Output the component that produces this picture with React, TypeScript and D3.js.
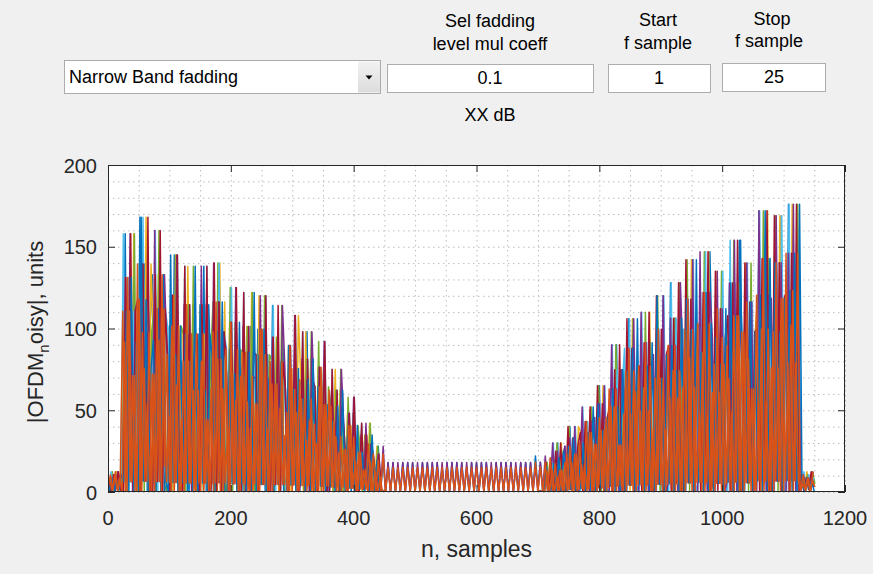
import React from 'react';
import * as d3 from 'd3';

// ---------- data ----------
const xTicks = [0, 200, 400, 600, 800, 1000, 1200];
const yTicks = [0, 50, 100, 150, 200];
const xMinor = d3.range(0, 1201, 50);
const yMinor = d3.range(0, 201, 10);

// samples between successive stored points, points per envelope bin
const STEP = 4;
const PER_BIN = 6;

// peak level of each 24-sample bin
const binEnvelope = [
  15, 158, 168, 160, 145, 138, 138, 140, 125, 122, 120, 114, 108, 98, 92, 75,
  58, 42, 28, 18, 18, 18, 18, 18, 18, 18, 18, 18, 18, 22, 30, 40,
  52, 65, 90, 106, 110, 120, 128, 142, 147, 135, 154, 140, 172, 169, 176, 15,
];

// decoding of one stored digit into a fraction of the bin envelope
const digitLevel = [0, 0.04, 0.1, 0.2, 0.32, 0.45, 0.58, 0.7, 0.83, 1];

// one digit per stored point (6 per bin, 48 bins)
const blueSeries = [
  '406185 290817 091806 807150 170915 608071 073908 581706',
  '019280 706184 081607 190728 605180 071906 508170 170816',
  '608071 071836 809170 909080 909090 809090 909080 909090',
  '908090 909090 809090 909080 909090 918070 071906 709180',
  '084706 609180 081907 709180 170806 608091 093807 708190',
  '081709 607180 081709 708160 093708 608190 091807 360715',
];
const yellowSeries = [
  '264805 807190 071908 608071 180907 709180 081706 170908',
  '083706 708190 091706 608072 180709 709180 081706 709180',
  '081706 608190 291010 000000 000000 000000 000000 000000',
  '000000 000000 000000 000000 000000 010281 708190 081709',
  '708190 081907 708160 180907 708190 081706 708190 081907',
  '708190 091807 608170 091807 708190 081907 709180 528163',
];
const greenSeries = [
  '382706 708190 180706 709180 081907 708190 180706 809170',
  '190807 708190 081907 708190 081706 708190 190807 708190',
  '091807 608190 191010 000000 000000 000000 000000 000000',
  '000000 000000 000000 000000 000000 010181 709180 190807',
  '608190 190807 709180 081907 709180 190807 608190 190807',
  '709180 081907 709180 180907 709180 190807 608190 627184',
];
const cyanSeries = [
  '183706 908170 809180 190807 708190 190807 608190 081907',
  '709180 091807 708190 190807 608190 190807 708190 190807',
  '608190 190807 708100 000000 000000 000000 000000 000000',
  '000000 000000 000000 000000 000000 001080 190807 608190',
  '091807 708190 190807 809180 091807 608190 091807 708190',
  '180907 608190 091807 709180 190807 608190 091807 281736',
];
const purpleSeries = [
  '705283 081907 708160 091708 608190 083706 709180 091807',
  '708190 180706 609180 081709 708190 081709 608190 081709',
  '708190 081907 708190 909090 909090 909090 909090 909090',
  '909090 909090 909090 909090 909090 708190 190807 708190',
  '190708 708190 091708 608190 091807 708190 180709 608190',
  '091708 709180 180907 609180 091807 709180 081907 174628',
];
const darkRedSeries = [
  '607381 081907 708190 081907 608190 091807 708190 190807',
  '608190 091807 708190 081907 608190 190807 708190 091807',
  '608190 091807 708100 000000 000000 000000 000000 000000',
  '000000 000000 000000 000000 000000 001080 608190 091807',
  '708190 190807 608190 091807 708190 091807 708190 091807',
  '608190 190807 708190 091807 608190 091807 708190 716283',
];
const blue2Series = [
  '061527 170806 091705 607081 091607 170609 081507 607180',
  '071608 160709 071806 506170 081607 160708 071506 160708',
  '061507 160508 170100 000000 000000 000000 000000 000000',
  '000000 000000 000000 000000 000000 001070 160708 071806',
  '160709 081607 170608 071809 160708 091607 170608 081709',
  '160807 071608 180709 061807 170908 081607 170809 416250',
];
const orange2Series = [
  '517260 607150 705160 516071 408170 616150 507140 716051',
  '406170 715061 508140 616071 507150 614160 408061 715051',
  '507140 614050 504010 000000 000000 000000 000000 000000',
  '000000 000000 000000 000000 000000 001060 504150 615061',
  '408170 516071 607140 715061 508170 616041 507160 716051',
  '408170 615061 507170 716050 408160 615071 507180 426153',
];
const orangeSeries = [
  '372806 708150 806140 507182 617050 408170 716040 508160',
  '708150 617040 508170 706151 408060 716050 507061 816040',
  '507160 614170 807080 808080 808080 808080 808080 808080',
  '808080 808080 808080 808080 808080 807080 706150 507060',
  '614070 507160 706041 508170 716050 408160 716050 508170',
  '716040 508170 614070 708150 716040 508170 816051 271608',
];

// drawing order (last on top), colours and first-sample offsets
const seriesList = [
  blueSeries, yellowSeries, greenSeries, cyanSeries, purpleSeries,
  darkRedSeries, blue2Series, orange2Series, orangeSeries,
];
const seriesColors = [
  '#0072BD', '#EDB120', '#77AC30', '#4DBEEE', '#7E2F8E',
  '#A2142F', '#0072BD', '#D95319', '#D95319',
];
const seriesStart = [0, 2, 3, 1, 0, 1, 2, 3, 0];

const toValues = (rows: string[]): number[] =>
  rows
    .join('')
    .replace(/\s+/g, '')
    .split('')
    .map((c, i) => binEnvelope[Math.floor(i / PER_BIN)] * digitLevel[+c]);

// ---------- layout ----------
const W = 873;
const H = 574;
const PL = 108, PR = 845, PT = 165, PB = 492;
const FONT = '"Liberation Sans", Arial, Helvetica, sans-serif';

export default function App() {
  const x = d3.scaleLinear().domain([0, 1200]).range([PL, PR]);
  const y = d3.scaleLinear().domain([0, 200]).range([PB, PT]);

  const gridColor = '#bdbdbd';
  const axisColor = '#262626';
  const tickLen = 7;

  return (
    <div style={{ position: 'absolute', left: 0, top: 0, width: W, height: H }}>
      <svg width={W} height={H} style={{ display: 'block' }} fontFamily={FONT}>
        <rect x={0} y={0} width={W} height={H} fill="#f0f0f0" />

        {/* ---------- GUI controls ---------- */}
        <g fontSize={18} fill="#000">
          <text x={490} y={27} textAnchor="middle">Sel fadding</text>
          <text x={490} y={50} textAnchor="middle">level mul coeff</text>
          <text x={658} y={26} textAnchor="middle">Start</text>
          <text x={658} y={49} textAnchor="middle">f sample</text>
          <text x={772} y={25} textAnchor="middle">Stop</text>
          <text x={769} y={47} textAnchor="middle">f sample</text>
          <text x={490} y={121} textAnchor="middle">XX dB</text>
        </g>
        {/* popup menu */}
        <rect x={64.5} y={60.5} width={316} height={33} fill="#fff" stroke="#acacac" />
        <defs>
          <linearGradient id="btn" x1="0" y1="0" x2="0" y2="1">
            <stop offset="0" stopColor="#f2f2f2" />
            <stop offset="1" stopColor="#dcdcdc" />
          </linearGradient>
          <clipPath id="plotClip">
            <rect x={PL} y={PT} width={PR - PL} height={PB - PT} />
          </clipPath>
        </defs>
        <rect x={358} y={61.5} width={22} height={31} fill="url(#btn)" />
        <path d="M365.5,75.5 L372.5,75.5 L369,79.5 Z" fill="#000" />
        <text x={69} y={83} fontSize={18} fill="#000">Narrow Band fadding</text>
        {/* edit boxes */}
        <rect x={387.5} y={64.5} width={206} height={28} fill="#fff" stroke="#adadad" />
        <rect x={608.5} y={64.5} width={102} height={28} fill="#fff" stroke="#adadad" />
        <rect x={722.5} y={63.5} width={103} height={28} fill="#fff" stroke="#adadad" />
        <g fontSize={18} fill="#000" textAnchor="middle">
          <text x={490} y={84}>0.1</text>
          <text x={659} y={84}>1</text>
          <text x={774} y={83}>25</text>
        </g>

        {/* ---------- axes background & grid ---------- */}
        <rect x={PL} y={PT} width={PR - PL} height={PB - PT} fill="#fff" />
        <g stroke={gridColor} strokeWidth={1} strokeDasharray="1.5 3.5">
          {xMinor.map((v) => (
            <line key={'gx' + v} x1={x(v) + 0.5} x2={x(v) + 0.5} y1={PT} y2={PB} />
          ))}
          {yMinor.map((v) => (
            <line key={'gy' + v} x1={PL} x2={PR} y1={y(v) + 0.5} y2={y(v) + 0.5} />
          ))}
        </g>

        {/* ---------- data lines ---------- */}
        <g fill="none" strokeWidth={1.5} strokeLinejoin="round" clipPath="url(#plotClip)">
          {seriesList.map((s, k) => {
            const line = d3
              .line<number>()
              .x((_, i) => x(i * STEP + seriesStart[k]))
              .y((d) => y(d));
            return <path key={k} d={line(toValues(s)) || ''} stroke={seriesColors[k]} />;
          })}
        </g>

        {/* ---------- axes box & ticks ---------- */}
        <rect x={PL + 0.5} y={PT + 0.5} width={PR - PL - 1} height={PB - PT - 1} fill="none" stroke={axisColor} strokeWidth={1} />
        <g stroke={axisColor} strokeWidth={1}>
          {xTicks.map((v) => (
            <g key={'tx' + v}>
              <line x1={x(v) + 0.5} x2={x(v) + 0.5} y1={PB} y2={PB - tickLen} />
              <line x1={x(v) + 0.5} x2={x(v) + 0.5} y1={PT} y2={PT + tickLen} />
            </g>
          ))}
          {yTicks.map((v) => (
            <g key={'ty' + v}>
              <line x1={PL} x2={PL + tickLen} y1={y(v) + 0.5} y2={y(v) + 0.5} />
              <line x1={PR} x2={PR - tickLen} y1={y(v) + 0.5} y2={y(v) + 0.5} />
            </g>
          ))}
        </g>
        <g fontSize={20} fill={axisColor}>
          {xTicks.map((v) => (
            <text key={'lx' + v} x={x(v)} y={525} textAnchor="middle">{v}</text>
          ))}
          {yTicks.map((v) => (
            <text key={'ly' + v} x={97} y={y(v) + 7.5} textAnchor="end">{v}</text>
          ))}
        </g>
        <text x={(PL + PR) / 2} y={557} fontSize={23} fill={axisColor} textAnchor="middle">n, samples</text>
        <text transform="translate(43,332) rotate(-90)" fontSize={22} fill={axisColor} textAnchor="middle">
          |OFDM<tspan fontSize={15} dy={6}>n</tspan><tspan dy={-6}>oisy|, units</tspan>
        </text>
      </svg>
    </div>
  );
}
